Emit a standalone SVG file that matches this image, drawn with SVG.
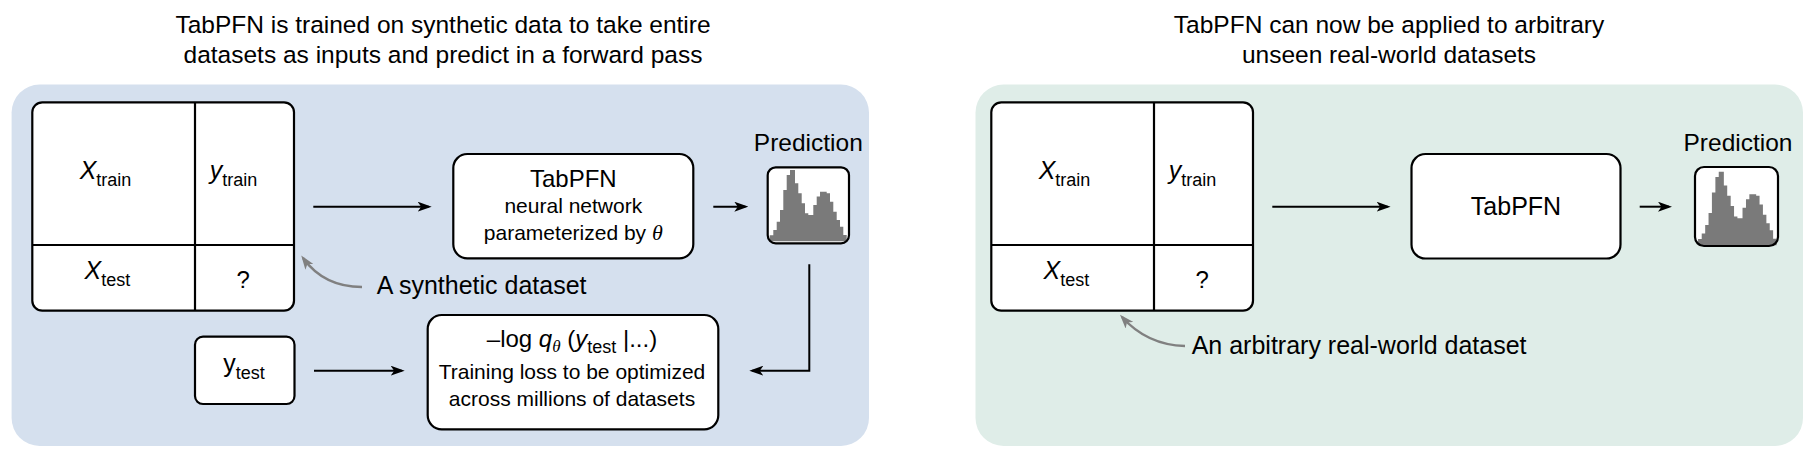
<svg xmlns="http://www.w3.org/2000/svg" xmlns:xlink="http://www.w3.org/1999/xlink" width="1817" height="472" viewBox="0 0 1817 472">
<style>
.t{font-family:"Liberation Sans",Arial,sans-serif;fill:#000}
.m{font-family:"Liberation Serif","Times New Roman",serif;font-style:italic}
.box{fill:#fff;stroke:#000;stroke-width:2.2}
.ln{stroke:#000;stroke-width:2.2;fill:none}
.arr{stroke:#000;stroke-width:2;fill:none;marker-end:url(#ah)}
.garr{stroke:#808080;stroke-width:2.4;fill:none;marker-end:url(#gah)}
.hist{fill:#7a7a7a}
.frame{fill:none;stroke:#000;stroke-width:2.2}
</style>
<defs>
<marker id="ah" viewBox="0 0 14 10" refX="11" refY="5" markerWidth="14" markerHeight="10" markerUnits="userSpaceOnUse" orient="auto"><path d="M0,0 L14,5 L0,10 L3.5,5 Z" fill="#000"/></marker>
<marker id="gah" viewBox="0 0 14 10" refX="11" refY="5" markerWidth="14" markerHeight="10" markerUnits="userSpaceOnUse" orient="auto"><path d="M0,0 L14,5 L0,10 L3.5,5 Z" fill="#808080"/></marker>
<path id="hg" class="hist" d="M2,74 V68 H5.6 V62.7 H9 V54.4 H12.3 V42.7 H15.6 V22.7 H19 V7.7 H22.3 V2.7 H27.3 V16 H30.6 V26 H34 V36 H37.3 V46 H40.6 V47.7 H45.6 V37.7 H49 V29.3 H52.3 V24.4 H59 V26 H62.3 V34.4 H65.6 V44.4 H69 V52.7 H72.3 V59.4 H75.6 V67.7 H79 V74 Z"/>
</defs>

<!-- panels -->
<rect id="panel-train" x="11.6" y="84.6" width="857.4" height="361.4" rx="28" fill="#d5e0ee"/>
<rect id="panel-apply" x="975.5" y="84.6" width="827.5" height="361.4" rx="28" fill="#dfede8"/>

<!-- titles -->
<g id="title-left" class="t" font-size="24.5" text-anchor="middle">
<text x="443" y="33.3">TabPFN is trained on synthetic data to take entire</text>
<text x="443" y="63.3">datasets as inputs and predict in a forward pass</text>
</g>
<g id="title-right" class="t" font-size="24.5" text-anchor="middle">
<text x="1389" y="33.3">TabPFN can now be applied to arbitrary</text>
<text x="1389" y="63.3">unseen real-world datasets</text>
</g>

<!-- left: synthetic dataset table -->
<g id="table-synthetic">
<rect class="box" x="32.3" y="102.3" width="261.7" height="208.4" rx="10"/>
<line class="ln" x1="195" y1="102.3" x2="195" y2="310.7"/>
<line class="ln" x1="32.3" y1="245" x2="294" y2="245"/>
<text class="t" x="105.5" y="179" text-anchor="middle" font-size="25"><tspan font-style="italic">X</tspan><tspan font-size="18" dy="7">train</tspan></text>
<text class="t" x="233.5" y="179" text-anchor="middle" font-size="25"><tspan font-style="italic">y</tspan><tspan font-size="18" dy="7">train</tspan></text>
<text class="t" x="107.3" y="279" text-anchor="middle" font-size="25"><tspan font-style="italic">X</tspan><tspan font-size="18" dy="7">test</tspan></text>
<text class="t" x="243.3" y="288" text-anchor="middle" font-size="24">?</text>
</g>

<g id="label-synthetic">
<text class="t" x="376.7" y="294" font-size="25">A synthetic dataset</text>
</g>

<g id="tabpfn-train">
<rect class="box" x="453.3" y="154" width="240" height="104.3" rx="14"/>
<text class="t" x="573.3" y="187" text-anchor="middle" font-size="24">TabPFN</text>
<text class="t" x="573.3" y="213.3" text-anchor="middle" font-size="21">neural network</text>
<text class="t" x="573.3" y="240" text-anchor="middle" font-size="21">parameterized by <tspan class="m" font-size="22">θ</tspan></text>
</g>

<g id="prediction-train">
<text class="t" x="808.3" y="150.7" text-anchor="middle" font-size="24.5">Prediction</text>
<rect x="767.7" y="167.3" width="81.3" height="76" rx="8" fill="#fff"/>
<use xlink:href="#hg" href="#hg" x="767.7" y="167.3"/>
<rect class="frame" x="767.7" y="167.3" width="81.3" height="76" rx="8"/>
</g>

<g id="ytest">
<rect class="box" x="195" y="336.7" width="99.5" height="67.3" rx="8"/>
<text class="t" x="244" y="372" text-anchor="middle" font-size="25">y<tspan font-size="18" dy="7">test</tspan></text>
</g>

<g id="loss">
<rect class="box" x="427.7" y="315" width="290.6" height="114.3" rx="14"/>
<text class="t" x="572" y="347" text-anchor="middle" font-size="24">–log <tspan font-style="italic">q</tspan><tspan class="m" font-size="17" dy="5">θ</tspan><tspan dy="-5"> (</tspan><tspan font-style="italic">y</tspan><tspan font-size="18" dy="6">test</tspan><tspan dy="-6"> |...)</tspan></text>
<text class="t" x="572" y="379.3" text-anchor="middle" font-size="21">Training loss to be optimized</text>
<text class="t" x="572" y="406" text-anchor="middle" font-size="21">across millions of datasets</text>
</g>

<!-- right: real-world dataset table -->
<g id="table-real">
<rect class="box" x="991.3" y="102.3" width="261.7" height="208.4" rx="10"/>
<line class="ln" x1="1154" y1="102.3" x2="1154" y2="310.7"/>
<line class="ln" x1="991.3" y1="245" x2="1253" y2="245"/>
<text class="t" x="1064.5" y="179" text-anchor="middle" font-size="25"><tspan font-style="italic">X</tspan><tspan font-size="18" dy="7">train</tspan></text>
<text class="t" x="1192.5" y="179" text-anchor="middle" font-size="25"><tspan font-style="italic">y</tspan><tspan font-size="18" dy="7">train</tspan></text>
<text class="t" x="1066.3" y="279" text-anchor="middle" font-size="25"><tspan font-style="italic">X</tspan><tspan font-size="18" dy="7">test</tspan></text>
<text class="t" x="1202.3" y="288" text-anchor="middle" font-size="24">?</text>
</g>

<g id="label-real">
<text class="t" x="1191.7" y="354" font-size="25">An arbitrary real-world dataset</text>
</g>

<g id="tabpfn-apply">
<rect class="box" x="1411.5" y="154" width="209" height="104.5" rx="14"/>
<text class="t" x="1516" y="215" text-anchor="middle" font-size="25">TabPFN</text>
</g>

<g id="prediction-apply">
<text class="t" x="1738" y="150.5" text-anchor="middle" font-size="24.5">Prediction</text>
<rect x="1695" y="167" width="83" height="79" rx="9" fill="#fff"/>
<use xlink:href="#hg" href="#hg" transform="translate(1696,169) scale(1.02,1.03)"/>
<rect class="frame" x="1695" y="167" width="83" height="79" rx="9"/>
</g>

<!-- connectors -->
<g id="connectors">
<line class="arr" x1="313.3" y1="206.7" x2="428.7" y2="206.7"/>
<line class="arr" x1="713.3" y1="206.7" x2="745.3" y2="206.7"/>
<path class="arr" d="M809.3,264.3 V370.7 H752.3"/>
<line class="arr" x1="314" y1="370.7" x2="401.7" y2="370.7"/>
<path class="garr" d="M362,287 Q324,287 303,258"/>
<line class="arr" x1="1272.3" y1="206.7" x2="1387.6" y2="206.7"/>
<line class="arr" x1="1639.7" y1="206.7" x2="1669" y2="206.7"/>
<path class="garr" d="M1185,346 Q1147,345 1122,317"/>
</g>
</svg>
